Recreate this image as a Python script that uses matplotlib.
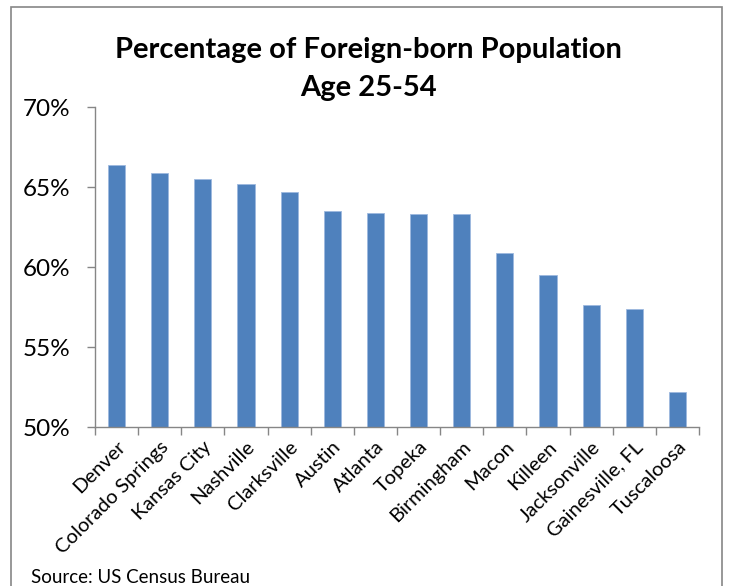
import numpy as np
import matplotlib
matplotlib.use("Agg")
import matplotlib.pyplot as plt
from matplotlib.patches import Rectangle
from matplotlib.ticker import FuncFormatter, MultipleLocator

plt.rcParams['font.family'] = ['Lato', 'DejaVu Sans']

# Data
cities = ["Denver", "Colorado Springs", "Kansas City", "Nashville", "Clarksville",
          "Austin", "Atlanta", "Topeka", "Birmingham", "Macon", "Killeen",
          "Jacksonville", "Gainesville, FL", "Tuscaloosa"]
pct = [66.4, 65.9, 65.5, 65.2, 64.7, 63.5, 63.4, 63.3, 63.3, 60.9, 59.5,
       57.6, 57.4, 52.2]

W, H = 730, 586
fig = plt.figure(figsize=(W / 100, H / 100), dpi=100)
ax = fig.add_axes([95 / W, 1 - 427 / H, (699 - 95) / W, (427 - 107) / H])

x = np.arange(len(cities))
ax.bar(x, pct, width=0.4, color="#4F81BD", edgecolor="#9DB9DF", linewidth=0.6)

ax.set_xlim(-0.5, len(cities) - 0.5)
ax.set_ylim(50, 70)
ax.yaxis.set_major_locator(MultipleLocator(5))
ax.yaxis.set_major_formatter(FuncFormatter(lambda v, p: f"{v:.0f}%"))

ax.set_xticks(x)
ax.set_xticklabels(cities, rotation=45, ha="right", rotation_mode="anchor", fontsize=14.5)
ax.set_xticks(np.arange(-0.5, len(cities)), minor=True)
ax.tick_params(axis="x", which="major", length=0, pad=8)
ax.tick_params(axis="x", which="minor", length=5.5, color="#868686", width=1)
ax.tick_params(axis="y", length=5.5, color="#868686", width=1, labelsize=17.5, pad=12)

for s in ["top", "right"]:
    ax.spines[s].set_visible(False)
for s in ["left", "bottom"]:
    ax.spines[s].set_color("#868686")
    ax.spines[s].set_linewidth(1)

fig.text(368 / W, 1 - 50 / H, "Percentage of Foreign-born Population", ha="center",
         va="center", fontsize=21, fontweight="bold")
fig.text(368 / W, 1 - 88 / H, "Age 25-54", ha="center", va="center",
         fontsize=21, fontweight="bold")
fig.text(31 / W, 1 - 583 / H, "Source: US Census Bureau", ha="left", va="baseline", fontsize=13.5)

fig.patches.append(Rectangle((11 / W, -0.05), (722 - 11) / W, 1 - 7 / H + 0.05,
                             transform=fig.transFigure, fill=False,
                             edgecolor="#868686", linewidth=1.2))

fig.savefig("out.png", dpi=100)
